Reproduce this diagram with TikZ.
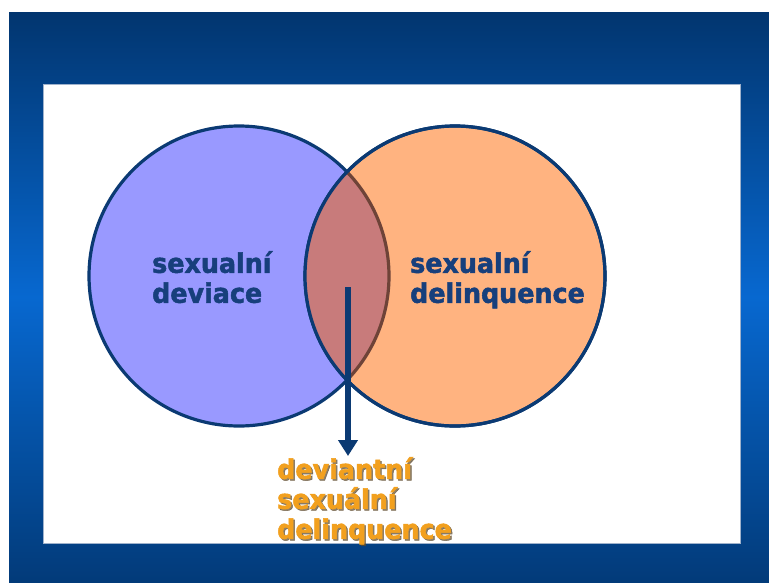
\documentclass[tikz,border=0pt]{standalone}
\usepackage{fontspec}
\setmainfont{DejaVu Sans}
\newfontfamily\heavyfont{DejaVu Sans Bold}[FakeBold=1.8, FakeStretch=0.94]
\usetikzlibrary{arrows.meta}

\definecolor{bgdark}{HTML}{00234C}
\definecolor{bgmid}{HTML}{0768D0}
\definecolor{rim}{HTML}{9FB2CC}
\definecolor{linenavy}{HTML}{0B3A73}
\definecolor{textnavy}{HTML}{173F7C}
\definecolor{setblue}{HTML}{9999FF}
\definecolor{setorange}{HTML}{FFB380}
\definecolor{lensfill}{HTML}{C87B7B}
\definecolor{lensarc}{HTML}{6E4338}
\definecolor{labelorange}{HTML}{F2A01E}
\definecolor{labelshadow}{HTML}{5E4A2C}

\pgfdeclareverticalshading{panel}{100bp}{%
  color(0bp)=(bgdark); color(12bp)=(bgdark); color(50bp)=(bgmid);
  color(84bp)=(bgdark); color(100bp)=(bgdark)}

\tikzset{
  setcircle/.style={circle, minimum size=300pt, inner sep=0pt, draw=linenavy, line width=3.2pt},
  settext/.style={anchor=north west, align=left, inner sep=0pt, text=textnavy,
    font=\heavyfont\fontsize{27}{30}\selectfont},
  resulttext/.style={anchor=north west, align=left, inner sep=0pt,
    font=\heavyfont\fontsize{27}{30}\selectfont},
  pointer/.style={draw=linenavy, line width=5.5pt,
    -{Triangle[width=19pt,length=16pt,fill=linenavy]}}
}

\begin{document}
\begin{tikzpicture}[x=1pt, y=-1pt]
  \useasboundingbox (0,0) rectangle (769,582);
  \fill[white] (0,0) rectangle (769,582);

  % slide frame and white content area
  \shade[shading=panel] (9,12) rectangle (769,582);
  \fill[white, draw=rim, line width=1pt] (43,84) rectangle (740,543);

  % the two sets
  \node[setcircle, fill=setblue] (dev) at (239,276) {};
  \node[setcircle, fill=setorange] (del) at (455,276) {};

  % overlap of the sets
  \begin{scope}
    \clip (dev.center) circle (150pt);
    \fill[lensfill] (del.center) circle (150pt);
  \end{scope}
  \begin{scope}
    \clip (del.center) circle (150pt);
    \draw[lensarc, line width=3.2pt] (dev.center) circle (150pt);
  \end{scope}
  \draw[linenavy, line width=3.2pt] (del.center) circle (150pt);

  % labels of the sets
  \node[settext] (devlabel) at (152,251) {sexualní\\deviace};
  \node[settext] (dellabel) at (410,251) {sexualní\\delinquence};

  % label of the overlap, with its shadow
  \node[resulttext, text=labelshadow, opacity=0.7] (resultshadow) at (278.5,458.5)
    {deviantní\\sexuální\\delinquence};
  \node[resulttext, text=labelorange] (result) at (277,457)
    {deviantní\\sexuální\\delinquence};

  % arrow from the overlap to its label
  \coordinate (arrowstart) at (348,287);
  \coordinate (arrowtip) at (348,456);
  \draw[pointer] (arrowstart) -- (arrowtip);
\end{tikzpicture}
\end{document}
